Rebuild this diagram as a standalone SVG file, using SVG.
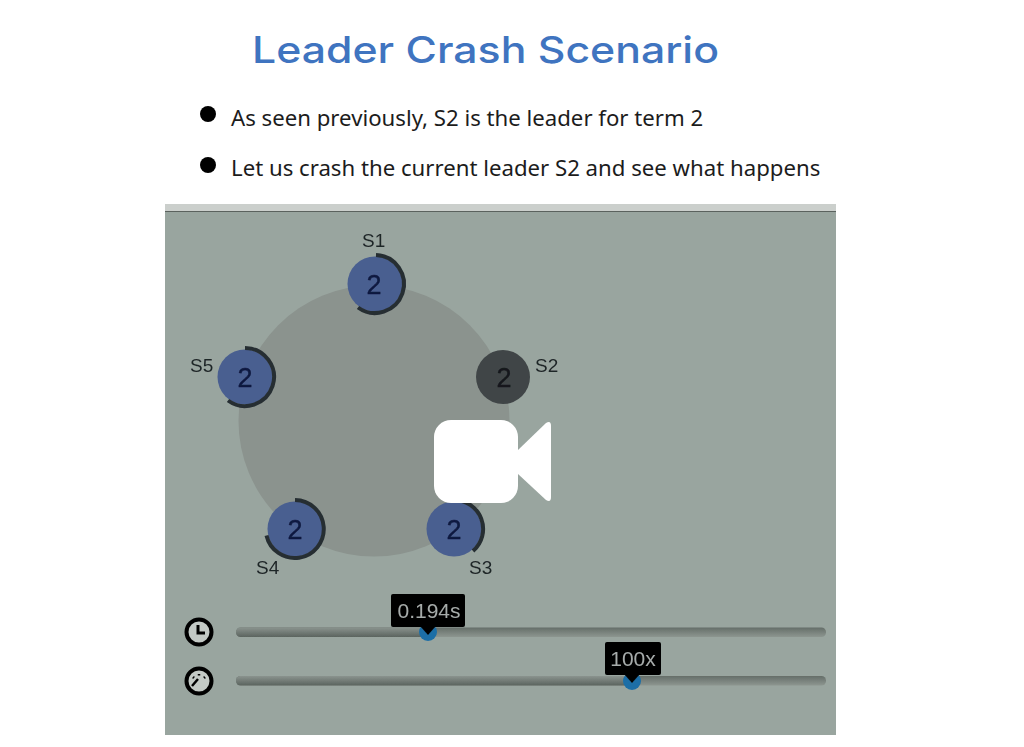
<svg xmlns="http://www.w3.org/2000/svg" width="1024" height="747" viewBox="0 0 1024 747">
<style>
.title{font-family:"Inter","Open Sans","Liberation Sans",sans-serif;font-size:37px;fill:#3f74c0;font-weight:500}
.body{font-family:"Noto Sans","Open Sans",sans-serif;font-size:22.200px;fill:#1c1c1c}
.lab{font-family:"Liberation Sans",Arial,sans-serif;font-size:19px;fill:#1f2527}
.num{font-family:"Liberation Sans",Arial,sans-serif;font-size:27px;fill:#101a40;text-anchor:middle;stroke:#101a40;stroke-width:0.400}
.tip{font-family:"Liberation Sans",Arial,sans-serif;font-size:21px;fill:#a6abaa;text-anchor:middle}
.srv{fill:#4a5f90}
.arc{fill:none;stroke:#262e33;stroke-width:4}
.knob{fill:#1c6ea6}
.icon{fill:#c3c9c5;stroke:#050505;stroke-width:4}
</style>
<defs>
<linearGradient id="tr" x1="0" y1="0" x2="0" y2="1"><stop offset="0" stop-color="#656e69"/><stop offset="1" stop-color="#8d9690"/></linearGradient>
<linearGradient id="trd" x1="0" y1="0" x2="0" y2="1"><stop offset="0" stop-color="#8a938e"/><stop offset="1" stop-color="#5b645f"/></linearGradient>
<filter id="soft" x="-10%" y="-10%" width="120%" height="120%"><feGaussianBlur stdDeviation="0.600"/></filter>
</defs>
<rect width="1024" height="747" fill="#fff"/>
<text class="title" x="252" y="63" textLength="467" lengthAdjust="spacingAndGlyphs">Leader Crash Scenario</text>
<circle cx="208" cy="114" r="8" fill="#000"/>
<text class="body" x="231" y="126">As seen previously, S2 is the leader for term 2</text>
<circle cx="208" cy="165" r="8" fill="#000"/>
<text class="body" x="231" y="176">Let us crash the current leader S2 and see what happens</text>

<rect x="165" y="204" width="671" height="531" fill="#99a59f"/>
<rect x="165" y="204" width="671" height="7" fill="#cbcfcc"/>
<rect x="165" y="211" width="671" height="1" fill="#5b625e"/>
<circle id="ring" cx="374" cy="421" r="135.500" fill="#8b938e"/>

<g id="S1" filter="url(#soft)">
<circle class="srv" cx="375" cy="284" r="27.500"/>
<path class="arc" d="M376 255 A29 29 0 1 1 358 307.500"/>
<text class="num" x="374" y="294">2</text>
<text class="lab" x="362" y="247">S1</text>
</g>
<g id="S2" filter="url(#soft)">
<circle cx="503" cy="377" r="27" fill="#404547"/>
<text class="num" x="504" y="387" style="fill:#15191c;stroke:#15191c">2</text>
<text class="lab" x="535" y="372">S2</text>
</g>
<g id="S3" filter="url(#soft)">
<circle class="srv" cx="454" cy="529" r="27.500"/>
<path class="arc" d="M454 500 A29 29 0 0 1 473 551"/>
<text class="num" x="454" y="539">2</text>
<text class="lab" x="469" y="574">S3</text>
</g>
<g id="S4" filter="url(#soft)">
<circle class="srv" cx="295" cy="529" r="27.500"/>
<path class="arc" d="M295 500 A29 29 0 1 1 266.500 535.500"/>
<text class="num" x="295" y="539">2</text>
<text class="lab" x="256" y="574">S4</text>
</g>
<g id="S5" filter="url(#soft)">
<circle class="srv" cx="245" cy="377" r="27.500"/>
<path class="arc" d="M245 348 A29 29 0 1 1 228 400.500"/>
<text class="num" x="245" y="387">2</text>
<text class="lab" x="190" y="372">S5</text>
</g>

<g id="connectors"></g>

<g id="slider-time" filter="url(#soft)">
<rect x="236" y="627.500" width="590" height="9.500" rx="4.500" fill="url(#tr)"/>
<rect x="236" y="627.500" width="192" height="9.500" rx="4.500" fill="url(#trd)"/>
<circle class="knob" cx="428" cy="632" r="9"/>
<path d="M420 626 L428 635 L436 626Z" fill="#050505"/>
<rect x="391" y="594" width="74" height="33" rx="2" fill="#050505"/>
<text class="tip" x="429" y="618">0.194s</text>
<circle class="icon" cx="199" cy="632" r="12.500"/>
<path d="M198 625 V633 H205" fill="none" stroke="#050505" stroke-width="3"/>
</g>
<g id="slider-speed" filter="url(#soft)">
<rect x="236" y="676" width="590" height="9.500" rx="4.500" fill="url(#tr)"/>
<rect x="236" y="676" width="396" height="9.500" rx="4.500" fill="url(#trd)"/>
<circle class="knob" cx="632" cy="681" r="9"/>
<path d="M624 674 L632 683 L640 674Z" fill="#050505"/>
<rect x="605" y="642" width="56" height="33" rx="2" fill="#050505"/>
<text class="tip" x="633" y="666">100x</text>
<circle class="icon" cx="199" cy="681" r="12.500"/>
<path d="M192 686 L198 679 M199 674 v1.500 M193 677 l1 1 M205 677 l-1 1" fill="none" stroke="#050505" stroke-width="2.500"/>
</g>

<g id="camera" fill="#fff">
<rect x="434" y="420" width="84" height="83" rx="17"/>
<path d="M518 450 L546 423 Q551 420 551 426 V497 Q551 503 546 500 L518 474Z"/>
</g>
</svg>
